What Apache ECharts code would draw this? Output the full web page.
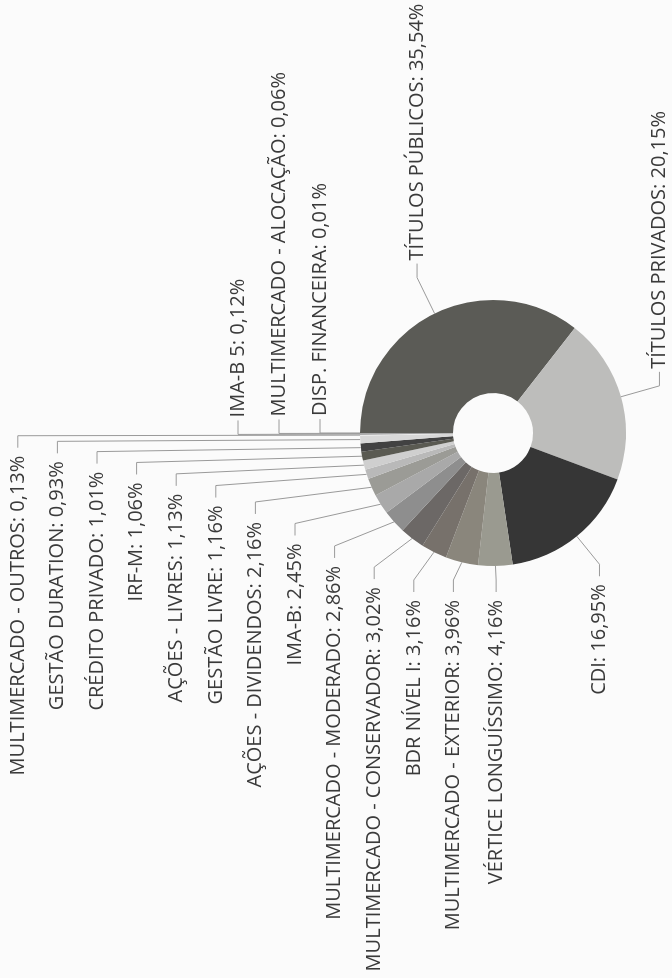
<!DOCTYPE html>
<html>
<head>
<meta charset="utf-8">
<script src="https://cdn.jsdelivr.net/npm/echarts@6/dist/echarts.min.js"></script>
<style>
  html, body { margin: 0; padding: 0; background: #fbfbfb; width: 672px; height: 978px; overflow: hidden; }
  #wrap {
    position: absolute; left: 0; top: 0; width: 978px; height: 672px;
    transform-origin: 0 0; transform: rotate(-90deg) translate(-978px, 0);
  }
</style>
</head>
<body>
<div id="wrap"></div>
<script>
// ---- data ----
const categories = [
  'TÍTULOS PÚBLICOS', 'TÍTULOS PRIVADOS', 'CDI', 'VÉRTICE LONGUÍSSIMO',
  'MULTIMERCADO - EXTERIOR', 'BDR NÍVEL I', 'MULTIMERCADO - CONSERVADOR',
  'MULTIMERCADO - MODERADO', 'IMA-B', 'AÇÕES - DIVIDENDOS', 'GESTÃO LIVRE',
  'AÇÕES - LIVRES', 'IRF-M', 'CRÉDITO PRIVADO', 'GESTÃO DURATION',
  'MULTIMERCADO - OUTROS', 'IMA-B 5', 'MULTIMERCADO - ALOCAÇÃO', 'DISP. FINANCEIRA'
];
const shares = [35.54, 20.15, 16.95, 4.16, 3.96, 3.16, 3.02, 2.86, 2.45, 2.16,
                1.16, 1.13, 1.06, 1.01, 0.93, 0.13, 0.12, 0.06, 0.01];

// ---- styles ----
const sliceColors = [
  '#5b5b56', '#bdbdbb', '#363636', '#9a9a90', '#8a867c', '#77716b', '#6c6866',
  '#8e8e8e', '#a9a9a9', '#9b9b96', '#b9b9b9', '#cfcfcf', '#5a5a52', '#424242',
  '#d8d8d8', '#e8e8e8', '#777777', '#999999', '#555555'
];
const CX = 545, CY = 493, R_IN = 40, R_OUT = 133;
const LEN1_L = 36, LEN1_R = 40, LEN2_L = 12, LEN2_R = 14, GAP_L = 8, GAP_R = 3;
const ROW_LEFT = 39.6, ROW_RIGHT = 41;
const MIN_ELBOW_LEFT = CX - (R_OUT + 14);

// label geometry (pie-style outer labels with vertical de-overlap)
const total = shares.reduce((a, b) => a + b, 0);
const geo = [];
let cum = 0;
shares.forEach((v, i) => {
  const mid = (cum + v / 2) / total * Math.PI * 2;
  cum += v;
  const s = Math.sin(mid), c = Math.cos(mid);
  let rel = mid * 180 / Math.PI; if (rel > 180) rel -= 360;
  const side = s >= -0.01 ? 'right' : 'left';
  const len1 = side === 'right' ? LEN1_R : LEN1_L;
  let ex = CX + (R_OUT + len1) * s;
  if (side === 'left') ex = Math.max(ex, MIN_ELBOW_LEFT);
  geo.push({ i, s, c, rel, side, ex, ey: CY - (R_OUT + len1) * c });
});
function spread(list, gap) {
  let prev = Infinity;
  list.forEach(g => { g.y = Math.min(g.ey, prev - gap); prev = g.y; });
}
spread(geo.filter(g => g.side === 'left').sort((a, b) => a.rel - b.rel), ROW_LEFT);
spread(geo.filter(g => g.side === 'right').sort((a, b) => b.rel - a.rel), ROW_RIGHT);

const fmt = v => v.toFixed(2).replace('.', ',');

const chart = echarts.init(document.getElementById('wrap'), null, { width: 978, height: 672 });
chart.setOption({
  backgroundColor: '#fbfbfb',
  animation: false,
  series: [{
    type: 'pie',
    center: [CX, CY],
    radius: [R_IN, R_OUT],
    startAngle: 90,
    clockwise: true,
    avoidLabelOverlap: false,
    itemStyle: { borderWidth: 0 },
    data: categories.map((n, i) => ({ name: n, value: shares[i], itemStyle: { color: sliceColors[i] } })),
    label: {
      show: true,
      position: 'outside',
      formatter: p => p.name + ': ' + fmt(p.value) + '%',
      fontFamily: 'Open Sans',
      fontSize: 20,
      color: '#3a3a3a'
    },
    labelLine: { show: true, lineStyle: { color: '#9a9a9a', width: 1 } },
    labelLayout: function (params) {
      const g = geo[params.dataIndex];
      const right = g.side === 'right';
      const dir = right ? 1 : -1;
      const edge = [CX + R_OUT * g.s, CY - R_OUT * g.c];
      const elbow = [g.ex, g.y];
      const end = [g.ex + dir * (right ? LEN2_R : LEN2_L), g.y];
      return {
        x: end[0] + dir * (right ? GAP_R : GAP_L),
        y: g.y,
        align: right ? 'left' : 'right',
        verticalAlign: 'middle',
        labelLinePoints: [edge, elbow, end]
      };
    }
  }]
});
</script>
</body>
</html>
